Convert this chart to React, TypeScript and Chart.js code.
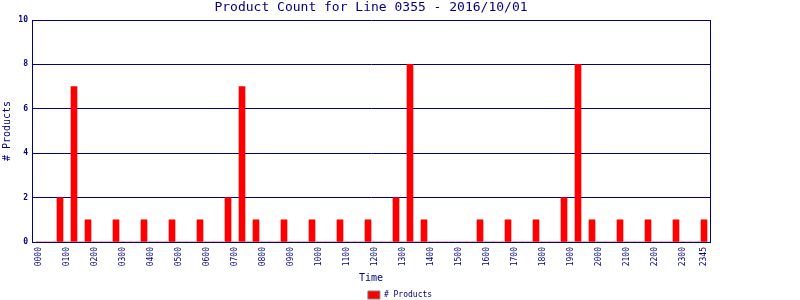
import { useEffect, useRef } from "react";
import { Chart, registerables } from "chart.js";

Chart.register(...registerables);

const chartTitle = "Product Count for Line 0355 - 2016/10/01";
const seriesName = "# Products";
const xTitle = "Time";
const yTitle = "# Products";

const times = [
  "0000", "0015", "0030", "0045", "0100", "0115", "0130", "0145",
  "0200", "0215", "0230", "0245", "0300", "0315", "0330", "0345",
  "0400", "0415", "0430", "0445", "0500", "0515", "0530", "0545",
  "0600", "0615", "0630", "0645", "0700", "0715", "0730", "0745",
  "0800", "0815", "0830", "0845", "0900", "0915", "0930", "0945",
  "1000", "1015", "1030", "1045", "1100", "1115", "1130", "1145",
  "1200", "1215", "1230", "1245", "1300", "1315", "1330", "1345",
  "1400", "1415", "1430", "1445", "1500", "1515", "1530", "1545",
  "1600", "1615", "1630", "1645", "1700", "1715", "1730", "1745",
  "1800", "1815", "1830", "1845", "1900", "1915", "1930", "1945",
  "2000", "2015", "2030", "2045", "2100", "2115", "2130", "2145",
  "2200", "2215", "2230", "2245", "2300", "2315", "2330", "2345",
];

const products = [
  0, 0, 0, 2, 0, 7, 0, 1,
  0, 0, 0, 1, 0, 0, 0, 1,
  0, 0, 0, 1, 0, 0, 0, 1,
  0, 0, 0, 2, 0, 7, 0, 1,
  0, 0, 0, 1, 0, 0, 0, 1,
  0, 0, 0, 1, 0, 0, 0, 1,
  0, 0, 0, 2, 0, 8, 0, 1,
  0, 0, 0, 0, 0, 0, 0, 1,
  0, 0, 0, 1, 0, 0, 0, 1,
  0, 0, 0, 2, 0, 8, 0, 1,
  0, 0, 0, 1, 0, 0, 0, 1,
  0, 0, 0, 1, 0, 0, 0, 1,
];

const xTickLabels = [
  "0000", "0100", "0200", "0300", "0400", "0500", "0600", "0700",
  "0800", "0900", "1000", "1100", "1200", "1300", "1400", "1500",
  "1600", "1700", "1800", "1900", "2000", "2100", "2200", "2300", "2345",
];

const yMin = 0;
const yMax = 10;
const yStep = 2;

// x range (in slot units) including the axis margins seen in the reference
const xMin = -1;
const xMax = 95.857;

const NAVY = "#000080";
const RED = "#ff0000";
const FONT = "'DejaVu Sans Mono', monospace";

export default function App() {
  const ref = useRef<HTMLCanvasElement>(null);

  useEffect(() => {
    document.body.style.margin = "0";
    const canvas = ref.current;
    if (!canvas) return;
    const points = products.map((y, i) => ({ x: i, y }));
    const chart = new Chart(canvas, {
      type: "bar",
      data: {
        datasets: [
          {
            label: seriesName,
            data: points,
            backgroundColor: RED,
            borderWidth: 0,
            barThickness: 6,
            yAxisID: "y",
          },
        ],
      },
      options: {
        responsive: false,
        animation: false,
        devicePixelRatio: 1,
        layout: { padding: { left: 0, right: 0, top: 0, bottom: -9 } },
        plugins: {
          title: {
            display: true,
            text: chartTitle,
            color: NAVY,
            fullSize: false,
            font: { family: FONT, size: 13, weight: "normal", lineHeight: "16px" },
            padding: { top: 0, bottom: 4 },
          },
          legend: {
            display: true,
            position: "bottom",
            labels: {
              color: NAVY,
              font: { family: FONT, size: 8 },
              boxWidth: 12,
              boxHeight: 8,
              padding: 4,
              generateLabels: (c: any) => {
                const items = Chart.defaults.plugins.legend.labels.generateLabels(c);
                return items.map((it: any) => ({
                  ...it,
                  fillStyle: RED,
                  strokeStyle: "#808080",
                  lineWidth: 1,
                }));
              },
            },
          },
          tooltip: { enabled: false },
        },
        scales: {
          x: {
            type: "linear",
            min: xMin,
            max: xMax,
            offset: false,
            grid: { display: false, drawTicks: false },
            border: { display: true, color: NAVY, width: 1 },
            ticks: {
              stepSize: 1,
              autoSkip: false,
              includeBounds: false,
              minRotation: 90,
              maxRotation: 90,
              padding: 5,
              color: NAVY,
              font: { family: FONT, size: 8 },
              callback: (v: any) => {
                const n = Number(v);
                if (!Number.isInteger(n)) return null;
                const lbl = times[n];
                return lbl !== undefined && xTickLabels.includes(lbl) ? lbl : null;
              },
            },
            title: {
              display: true,
              text: xTitle,
              color: NAVY,
              font: { family: FONT, size: 10 },
              padding: { top: 0, bottom: 3 },
            },
            afterFit: (s: any) => {
              s.height = 45;
            },
          },
          y: {
            type: "linear",
            position: "left",
            min: yMin,
            max: yMax,
            ticks: {
              stepSize: yStep,
              color: NAVY,
              padding: 4,
              font: { family: FONT, size: 8, weight: "bold" },
            },
            grid: { display: true, color: NAVY, lineWidth: 1, drawTicks: false },
            border: { display: true, color: NAVY, width: 1 },
            title: {
              display: true,
              text: yTitle,
              color: NAVY,
              font: { family: FONT, size: 10 },
              padding: { top: 1, bottom: 0 },
            },
            afterFit: (s: any) => {
              s.width = 32;
            },
          },
          yRight: {
            type: "linear",
            position: "right",
            display: true,
            min: yMin,
            max: yMax,
            grid: { display: false, drawTicks: false },
            ticks: { display: false },
            border: { display: true, color: NAVY, width: 1 },
            afterFit: (s: any) => {
              s.width = 90;
            },
          },
        },
      },
    });
    return () => chart.destroy();
  }, []);

  return (
    <div style={{ width: 800, height: 300 }}>
      <canvas ref={ref} width={800} height={300} style={{ display: "block" }} />
    </div>
  );
}
